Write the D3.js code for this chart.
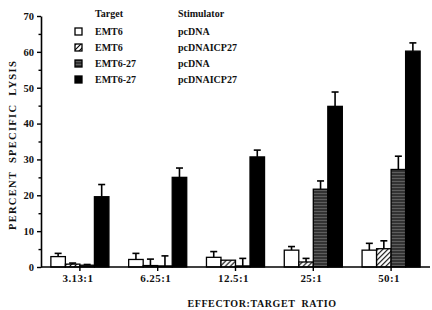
<!DOCTYPE html>
<html>
<head>
<meta charset="utf-8" />
<title>Percent specific lysis</title>
<style>
  body { margin: 0; background: #fff; }
  text { font-family: "Liberation Serif", "DejaVu Serif", serif; font-weight: bold; fill: #111; }
</style>
</head>
<body>
<svg id="chart" width="432" height="310"></svg>
<script src="https://d3js.org/d3.v7.min.js"></script>
<script>
// data
var ratios = ["3.13:1", "6.25:1", "12.5:1", "25:1", "50:1"];
var targets = ["EMT6", "EMT6", "EMT6-27", "EMT6-27"];
var stimulators = ["pcDNA", "pcDNAICP27", "pcDNA", "pcDNAICP27"];

var emt6Pc      = [2.9, 2.1, 2.7, 4.7, 4.7];
var emt6PcErr   = [0.9, 1.7, 1.6, 1.0, 1.9];
var emt6Icp     = [0.8, 0.4, 1.9, 1.4, 5.1];
var emt6IcpErr  = [0.3, 1.8, 0.0, 1.0, 2.2];
var emt27Pc     = [0.5, 0.3, 0.3, 21.7, 27.2];
var emt27PcErr  = [0.2, 2.8, 2.1, 2.3, 3.7];
var emt27Icp    = [19.6, 25.0, 30.7, 44.8, 60.2];
var emt27IcpErr = [3.4, 2.6, 1.9, 4.0, 2.3];

var yMajor = [0, 10, 20, 30, 40, 50, 60, 70];
var yMinor = [5, 15, 25, 35, 45, 55, 65];

var seriesVals = [emt6Pc, emt6Icp, emt27Pc, emt27Icp];
var seriesErrs = [emt6PcErr, emt6IcpErr, emt27PcErr, emt27IcpErr];
var fills = ["#fff", "url(#hatch)", "url(#stripe)", "#000"];

var svg = d3.select("#chart");

// patterns
var defs = svg.append("defs");
var hatch = defs.append("pattern").attr("id", "hatch")
  .attr("patternUnits", "userSpaceOnUse").attr("width", 5).attr("height", 5);
hatch.append("rect").attr("width", 5).attr("height", 5).attr("fill", "#fff");
hatch.append("path").attr("d", "M-1,6 L6,-1 M-1,1 L1,-1 M4,6 L6,4")
  .attr("stroke", "#000").attr("stroke-width", 1.1);

var stripe = defs.append("pattern").attr("id", "stripe")
  .attr("patternUnits", "userSpaceOnUse").attr("width", 4).attr("height", 3);
stripe.append("rect").attr("width", 4).attr("height", 3).attr("fill", "#333");
stripe.append("rect").attr("y", 1).attr("width", 4).attr("height", 1).attr("fill", "#5e5e5e");

var x0 = d3.scaleBand().domain(ratios).range([41, 430]).padding(0);
var x1 = d3.scaleBand().domain(d3.range(4)).range([0, x0.bandwidth()])
  .paddingInner(0).paddingOuter(0.68);
var y = d3.scaleLinear().domain([0, 70]).range([267, 16]);

// bars
var groups = svg.selectAll("g.grp").data(ratios).enter().append("g")
  .attr("class", "grp")
  .attr("transform", function(d) { return "translate(" + x0(d) + ",0)"; });

groups.each(function(r, i) {
  var g = d3.select(this);
  for (var s = 0; s < 4; s++) {
    var v = seriesVals[s][i], e = seriesErrs[s][i];
    var bx = x1(s), bw = x1.bandwidth(), cx = bx + bw / 2;
    if (e > 0) {
      g.append("line").attr("x1", cx).attr("x2", cx)
        .attr("y1", y(v)).attr("y2", y(v + e))
        .attr("stroke", "#000").attr("stroke-width", 1.6);
      g.append("line").attr("x1", cx - 3.5).attr("x2", cx + 3.5)
        .attr("y1", y(v + e)).attr("y2", y(v + e))
        .attr("stroke", "#000").attr("stroke-width", 1.6);
    }
    g.append("rect")
      .attr("x", bx).attr("width", bw)
      .attr("y", y(v)).attr("height", y(0) - y(v))
      .attr("fill", fills[s])
      .attr("stroke", "#000").attr("stroke-width", 1.3);
  }
});

// y axis
var yAxis = svg.append("g").attr("transform", "translate(41,0)")
  .call(d3.axisLeft(y).tickValues(yMajor).tickSize(4).tickSizeOuter(0).tickPadding(3));
svg.append("g").attr("transform", "translate(41,0)")
  .call(d3.axisLeft(y).tickValues(yMinor).tickSize(2.5).tickFormat(""))
  .select(".domain").remove();
svg.selectAll(".domain").attr("stroke-width", 1.6);
svg.selectAll(".tick line").attr("stroke-width", 1.4);
yAxis.selectAll("text").style("font-family", "Liberation Serif").style("font-weight", "bold")
  .style("font-size", "10.5px").attr("fill", "#111");

// x baseline and ticks
svg.append("line").attr("x1", 41).attr("x2", 430).attr("y1", y(0)).attr("y2", y(0))
  .attr("stroke", "#000").attr("stroke-width", 1.6);
svg.selectAll("line.xt").data(ratios).enter().append("line")
  .attr("x1", function(d) { return x0(d) + x0.bandwidth() / 2; })
  .attr("x2", function(d) { return x0(d) + x0.bandwidth() / 2; })
  .attr("y1", y(0)).attr("y2", y(0) + 4)
  .attr("stroke", "#000").attr("stroke-width", 1.4);
svg.selectAll("text.xl").data(ratios).enter().append("text")
  .attr("x", function(d) { return x0(d) + x0.bandwidth() / 2 - 2; })
  .attr("y", 282).attr("text-anchor", "middle")
  .style("font-size", "11px").style("letter-spacing", "0.4px")
  .text(function(d) { return d; });

// axis titles
svg.append("text").attr("x", 262).attr("y", 307).attr("text-anchor", "middle")
  .style("font-size", "10px").style("letter-spacing", "0.6px").attr("xml:space", "preserve")
  .text("EFFECTOR:TARGET  RATIO");
svg.append("text").attr("transform", "translate(16,145) rotate(-90)")
  .attr("text-anchor", "middle").attr("xml:space", "preserve")
  .style("font-size", "10.5px").style("letter-spacing", "1.3px")
  .text("PERCENT  SPECIFIC  LYSIS");

// legend
svg.append("text").attr("x", 95).attr("y", 17).style("font-size", "10px").text("Target");
svg.append("text").attr("x", 178).attr("y", 17).style("font-size", "10px").text("Stimulator");
var rowsY = [35, 51, 67, 83];
targets.forEach(function(t, i) {
  svg.append("rect").attr("x", 75).attr("y", rowsY[i] - 7).attr("width", 7).attr("height", 7)
    .attr("fill", fills[i]).attr("stroke", "#000").attr("stroke-width", 1.3);
  svg.append("text").attr("x", 95).attr("y", rowsY[i]).style("font-size", "10px").text(t);
  svg.append("text").attr("x", 178).attr("y", rowsY[i]).style("font-size", "10px").text(stimulators[i]);
});
</script>
</body>
</html>
